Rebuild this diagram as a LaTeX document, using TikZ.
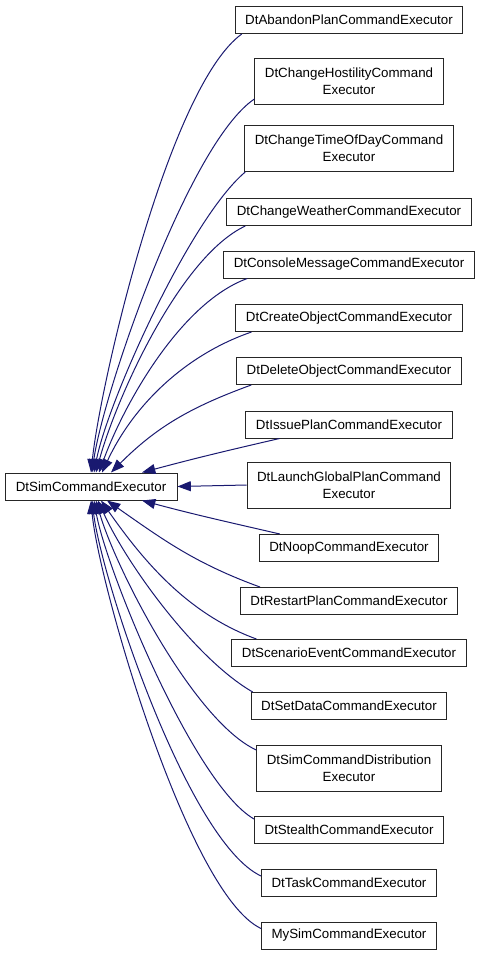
\documentclass[tikz,border=0pt]{standalone}
\usepackage{fontspec}
\setmainfont{Liberation Sans}
\usetikzlibrary{arrows.meta,calc}
\definecolor{midnightblue}{RGB}{25,25,112}
\tikzset{
  cls/.style={draw=black!85, fill=white, line width=0.75pt, inner xsep=7.5pt,
    minimum height=20.25pt, align=center, font=\fontsize{10}{12.5}\selectfont},
  cls2/.style={cls, minimum height=34.5pt},
  inh/.style={draw=midnightblue, line width=0.75pt,
    -{Triangle[length=10pt,width=7.5pt]}}
}
\begin{document}
\begin{tikzpicture}[x=0.75pt,y=0.75pt]
\useasboundingbox (0,0) rectangle (480,-957);
\def\cx{349} % x of the column of derived classes
\node[cls, minimum width=129pt] (base) at (91,-486.5) {DtSimCommandExecutor};
% derived classes, one line
\foreach \n/\y/\t in {aban/20/DtAbandonPlanCommandExecutor,
    weat/212/DtChangeWeatherCommandExecutor,
    cons/264.5/DtConsoleMessageCommandExecutor,
    crea/318/DtCreateObjectCommandExecutor,
    dele/371/DtDeleteObjectCommandExecutor,
    issu/424.5/DtIssuePlanCommandExecutor,
    noop/548/DtNoopCommandExecutor,
    rest/601/DtRestartPlanCommandExecutor,
    scen/653/DtScenarioEventCommandExecutor,
    setd/706/DtSetDataCommandExecutor,
    stea/830/DtStealthCommandExecutor,
    task/883/DtTaskCommandExecutor,
    mysi/935.5/MySimCommandExecutor}
{
  \node[cls] (\n) at (\cx,-\y) {\t};
}
% derived classes, two lines
\foreach \n/\y/\t in {host/81.5/{DtChangeHostilityCommand\\Executor},
    time/148.5/{DtChangeTimeOfDayCommand\\Executor},
    laun/485/{DtLaunchGlobalPlanCommand\\Executor},
    dist/768.5/{DtSimCommandDistribution\\Executor}}
{
  \node[cls2] (\n) at (\cx,-\y) {\t};
}
% edges coming down onto the top of the base class
\foreach \n/\dx/\dy/\tx/\o/\i/\l in {aban/7/0/0/216/84/0.5,
    host/0/6/1/214/82/0.5,
    time/1/0/3/220/79/0.55,
    weat/19/0/5/205/75/0.65,
    cons/24/0/8/200/70/0.75,
    crea/16/0/11/199/65/0.9,
    dele/15/0/20/200/45/1,
    issu/34/0/51/193/15/1}
{
  \draw[inh] ($(\n.south west)+(\dx,\dy)$) to[out=\o,in=\i,looseness=\l] ($(base.north)+(\tx,0)$);
}
\draw[inh] (laun.west) -- (base.east);
% edges coming up onto the bottom of the base class
\foreach \n/\dx/\dy/\tx/\o/\i/\l in {noop/21/0/51/167/-15/1,
    rest/20/0/16/160/-35/1,
    scen/25/0/10/160/-55/0.9,
    setd/2/0/7/150/-66/0.7,
    dist/0/-5/5/155/-74/0.6,
    stea/0/-3/3/150/-80/0.5,
    task/0/-7/1/155/-83/0.5,
    mysi/0/-7/0/155/-85/0.45}
{
  \draw[inh] ($(\n.north west)+(\dx,\dy)$) to[out=\o,in=\i,looseness=\l] ($(base.south)+(\tx,0)$);
}
\end{tikzpicture}
\end{document}
